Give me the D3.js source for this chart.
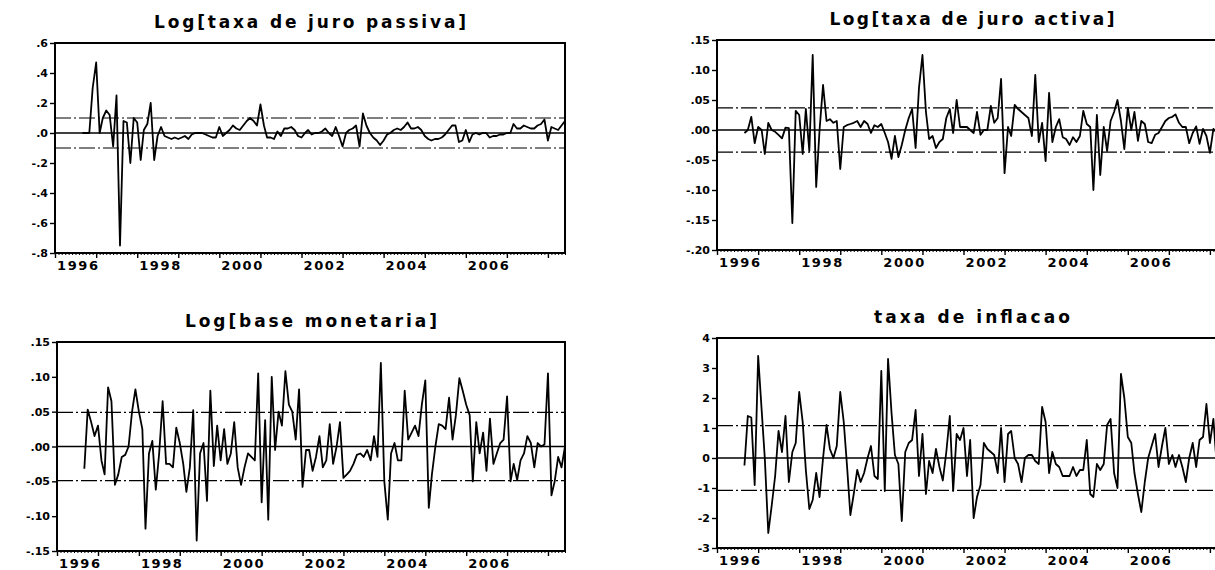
<!DOCTYPE html>
<html>
<head>
<meta charset="utf-8">
<script src="https://cdn.jsdelivr.net/npm/d3@7"></script>
<style>
  body { margin: 0; background: #fff; }
  svg { display: block; }
  text { font-family: "DejaVu Sans", "Liberation Sans", Arial, sans-serif; font-weight: bold; fill: #000; }
</style>
</head>
<body>
<svg id="chart" width="1215" height="570"></svg>
<script>
// monthly observations, first value = 1996M9 (month index 8 from 1996M1)
const firstMonth = 8;
const sampleStart = [1996, 0];
const sampleEnd = [2008, 5];

const juroPassiva = [
  0.00, 0.00, 0.00, 0.30,                                               // 1996
  0.47, 0.00, 0.10, 0.15, 0.12, -0.09, 0.25, -0.75, 0.08, 0.07, -0.20, 0.10, // 1997
  0.07, -0.18, 0.02, 0.06, 0.20, -0.18, -0.02, 0.04, -0.02, -0.03, -0.04, -0.03, // 1998
  -0.04, -0.03, -0.02, -0.04, -0.01, 0.00, 0.00, 0.00, -0.01, -0.02, -0.03, -0.03, // 1999
  0.04, -0.02, 0.00, 0.02, 0.05, 0.03, 0.02, 0.05, 0.08, 0.10, 0.08, 0.05,     // 2000
  0.19, 0.05, -0.03, -0.03, -0.04, 0.01, -0.02, 0.03, 0.03, 0.04, 0.02, -0.02, // 2001
  -0.03, 0.00, 0.02, -0.01, 0.00, 0.00, 0.01, 0.03, 0.00, -0.02, 0.04, -0.02,  // 2002
  -0.09, 0.00, 0.02, 0.03, 0.05, -0.09, 0.13, 0.05, 0.00, -0.03, -0.05, -0.08, // 2003
  -0.05, -0.01, 0.00, 0.02, 0.03, 0.02, 0.04, 0.07, 0.03, 0.03, 0.04, 0.02,    // 2004
  -0.02, -0.04, -0.05, -0.04, -0.04, -0.03, -0.01, 0.02, 0.05, 0.05, -0.06, -0.05, // 2005
  0.02, -0.06, -0.01, 0.00, -0.01, 0.00, 0.00, -0.03, -0.02, -0.02, -0.01, -0.01, // 2006
  0.00, 0.00, 0.06, 0.03, 0.03, 0.05, 0.04, 0.03, 0.03, 0.05, 0.06, 0.09,      // 2007
  -0.05, 0.04, 0.03, 0.02, 0.05, 0.08                                     // 2008
];

const juroActiva = [
  -0.005, 0.000, 0.022, -0.022,
  0.005, 0.000, -0.040, 0.012, 0.000, -0.003, -0.008, -0.014, 0.004, 0.003, -0.155, 0.032,
  0.025, -0.040, 0.035, -0.035, 0.125, -0.095, 0.000, 0.075, 0.015, 0.018, 0.012, 0.015,
  -0.065, 0.005, 0.008, 0.010, 0.012, 0.015, 0.005, 0.015, 0.010, -0.005, 0.008, 0.005,
  0.010, -0.005, -0.020, -0.048, -0.010, -0.045, -0.025, 0.000, 0.020, 0.035, -0.030, 0.070,
  0.125, 0.030, -0.015, -0.010, -0.030, -0.020, -0.015, 0.020, 0.035, -0.005, 0.050, 0.005,
  0.005, 0.005, 0.000, -0.005, 0.030, -0.008, 0.000, 0.000, 0.040, 0.012, 0.020, 0.085,
  -0.072, 0.005, -0.010, 0.042, 0.035, 0.030, 0.025, 0.020, -0.010, 0.092, -0.020, 0.012,
  -0.052, 0.062, -0.020, 0.005, 0.018, -0.012, -0.015, -0.025, -0.012, -0.020, -0.010, 0.032,
  0.010, 0.005, -0.100, 0.025, -0.075, 0.005, -0.035, 0.015, 0.030, 0.050, 0.015, -0.032,
  0.037, 0.000, 0.030, -0.018, 0.015, 0.010, -0.020, -0.022, -0.008, -0.005, 0.005, 0.015,
  0.020, 0.022, 0.026, 0.012, 0.005, 0.005, -0.022, -0.005, 0.006, -0.023, 0.002, -0.010,
  -0.038, 0.002, -0.005, 0.010, -0.010, 0.005
];

const baseMonetaria = [
  -0.032, 0.053, 0.035, 0.015,
  0.030, -0.020, -0.040, 0.085, 0.065, -0.055, -0.040, -0.015, -0.012, 0.000, 0.050, 0.082,
  0.050, 0.025, -0.118, -0.010, 0.008, -0.062, -0.010, 0.065, -0.025, -0.025, -0.030, 0.027,
  0.005, -0.025, -0.065, -0.030, 0.052, -0.135, -0.010, 0.005, -0.078, 0.080, -0.028, 0.030,
  -0.020, 0.025, -0.025, -0.010, 0.035, -0.030, -0.055, -0.030, -0.010, -0.015, -0.020, 0.105,
  -0.080, 0.038, -0.105, 0.100, -0.005, 0.050, 0.030, 0.108, 0.060, 0.050, 0.010, 0.082,
  -0.058, -0.005, -0.005, -0.035, -0.015, 0.015, -0.030, -0.020, 0.032, -0.025, 0.000, 0.035,
  -0.045, -0.040, -0.035, -0.025, -0.012, -0.010, -0.015, -0.005, -0.020, 0.015, -0.015, 0.120,
  -0.050, -0.105, -0.010, 0.005, -0.020, -0.020, 0.080, 0.010, 0.020, 0.030, 0.015, 0.060,
  0.095, -0.088, -0.040, 0.000, 0.032, 0.030, 0.025, 0.070, 0.010, 0.045, 0.098, 0.080,
  0.060, 0.045, -0.050, 0.035, -0.010, 0.020, -0.035, 0.040, -0.025, -0.010, 0.005, 0.010,
  0.072, -0.050, -0.025, -0.048, -0.020, -0.010, 0.015, 0.005, -0.030, 0.005, 0.000, 0.003,
  0.105, -0.070, -0.050, -0.015, -0.030, 0.000
];

const inflacao = [
  -0.25, 1.40, 1.35, -0.90,
  3.40, 1.60, 0.00, -2.50, -1.60, -0.60, 0.90, 0.20, 1.40, -0.80, 0.20, 0.50,
  2.20, 1.20, -0.40, -1.70, -1.40, -0.50, -1.30, 0.00, 1.10, 0.30, 0.00, 0.40,
  2.20, 1.20, -0.20, -1.90, -1.20, -0.40, -0.80, -0.50, 0.00, 0.40, -0.60, -0.70,
  2.90, -1.10, 3.30, 1.50, 0.10, -0.20, -2.10, 0.20, 0.50, 0.60, 1.60, -0.60,
  0.80, -1.20, -0.10, -0.50, 0.30, -0.30, -0.75, 0.20, 1.40, -1.10, 0.80, 0.60,
  1.00, -0.60, 0.60, -2.00, -1.30, -0.90, 0.50, 0.30, 0.20, 0.10, -0.50, 1.00,
  -0.80, 0.80, 0.90, 0.00, -0.20, -0.80, 0.00, 0.10, 0.10, -0.10, -0.20, 1.70,
  1.20, -0.50, 0.20, -0.20, -0.30, -0.60, -0.60, -0.60, -0.30, -0.60, -0.40, -0.40,
  0.60, -1.20, -1.30, -0.20, -0.40, -0.20, 1.10, 1.30, -0.50, -1.00, 2.80, 2.00,
  0.70, 0.50, -0.50, -1.20, -1.80, -0.80, 0.00, 0.40, 0.80, -0.30, 0.40, 1.00,
  -0.20, 0.10, -0.30, 0.10, -0.30, -0.80, 0.00, 0.50, -0.30, 0.60, 0.70, 1.80,
  0.50, 1.30, -0.20, 0.30, 0.50, 0.20
];

// dash-dot bands (+/- two standard errors)
const bandPassiva = 0.10;
const bandActiva = 0.037;
const bandBase = 0.049;
const bandInflacao = 1.08;

// axis ticks and labels
const passivaTicks = [0.6, 0.4, 0.2, 0.0, -0.2, -0.4, -0.6, -0.8];
const passivaLabels = [".6", ".4", ".2", ".0", "-.2", "-.4", "-.6", "-.8"];
const activaTicks = [0.15, 0.10, 0.05, 0.00, -0.05, -0.10, -0.15, -0.20];
const activaLabels = [".15", ".10", ".05", ".00", "-.05", "-.10", "-.15", "-.20"];
const baseTicks = [0.15, 0.10, 0.05, 0.00, -0.05, -0.10, -0.15];
const baseLabels = [".15", ".10", ".05", ".00", "-.05", "-.10", "-.15"];
const inflacaoTicks = [4, 3, 2, 1, 0, -1, -2, -3];
const inflacaoLabels = ["4", "3", "2", "1", "0", "-1", "-2", "-3"];
const yearLabels = ["1996", "1998", "2000", "2002", "2004", "2006"];

const titles = ["Log[taxa de juro passiva]", "Log[taxa de juro activa]",
                "Log[base monetaria]", "taxa de inflacao"];

// panel layout
const panels = [
  { title: titles[0], values: juroPassiva, band: bandPassiva, ticks: passivaTicks, labels: passivaLabels,
    left: 55, top: 43, width: 510, height: 210, titleWidth: 312 },
  { title: titles[1], values: juroActiva, band: bandActiva, ticks: activaTicks, labels: activaLabels,
    left: 717, top: 40, width: 510, height: 210, titleWidth: 285 },
  { title: titles[2], values: baseMonetaria, band: bandBase, ticks: baseTicks, labels: baseLabels,
    left: 57, top: 342, width: 508, height: 209, titleWidth: 252 },
  { title: titles[3], values: inflacao, band: bandInflacao, ticks: inflacaoTicks, labels: inflacaoLabels,
    left: 717, top: 338, width: 510, height: 210, titleWidth: 196 }
];

const svg = d3.select("#chart");

function drawPanel(p) {
  const g = svg.append("g").attr("transform", `translate(${p.left},${p.top})`);

  const x = d3.scaleTime()
    .domain([new Date(sampleStart[0], sampleStart[1], 1), new Date(sampleEnd[0], sampleEnd[1], 1)])
    .range([0, p.width]);

  const y = d3.scaleLinear()
    .domain([d3.min(p.ticks), d3.max(p.ticks)])
    .range([p.height, 0]);

  const data = p.values.map((v, i) => ({ date: new Date(1996, firstMonth + i, 1), v: v }));

  // title
  g.append("text")
    .attr("x", p.width / 2)
    .attr("y", -15)
    .attr("text-anchor", "middle")
    .attr("textLength", p.titleWidth)
    .attr("lengthAdjust", "spacing")
    .style("font-size", "17px")
    .text(p.title);

  // zero line and bands
  g.append("line")
    .attr("x1", 0).attr("x2", p.width)
    .attr("y1", y(0)).attr("y2", y(0))
    .attr("stroke", "#000").attr("stroke-width", 1.4);

  [p.band, -p.band].forEach(b => {
    g.append("line")
      .attr("x1", 0).attr("x2", p.width)
      .attr("y1", y(b)).attr("y2", y(b))
      .attr("stroke", "#000").attr("stroke-width", 1.2)
      .attr("stroke-dasharray", "16,3,2,3");
  });

  // series
  g.append("path")
    .datum(data)
    .attr("fill", "none")
    .attr("stroke", "#000")
    .attr("stroke-width", 1.8)
    .attr("stroke-linejoin", "round")
    .attr("d", d3.line().x(d => x(d.date)).y(d => y(d.v)));

  // frame
  g.append("rect")
    .attr("width", p.width).attr("height", p.height)
    .attr("fill", "none").attr("stroke", "#000").attr("stroke-width", 2);

  // left axis
  const yAxis = g.append("g")
    .call(d3.axisLeft(y).tickValues(p.ticks).tickFormat((d, i) => p.labels[i]).tickSize(5).tickPadding(2));
  yAxis.select(".domain").remove();
  yAxis.selectAll("line").attr("stroke-width", 1.4);
  yAxis.selectAll("text").style("font-size", "11px").attr("font-family", null);

  // bottom axis: yearly and monthly ticks
  const xMinor = g.append("g").attr("transform", `translate(0,${p.height})`)
    .call(d3.axisBottom(x).ticks(d3.timeMonth.every(1)).tickSize(2).tickFormat(""));
  xMinor.select(".domain").remove();
  const xMajor = g.append("g").attr("transform", `translate(0,${p.height})`)
    .call(d3.axisBottom(x).ticks(d3.timeYear.every(1)).tickSize(5).tickFormat(""));
  xMajor.select(".domain").remove();
  xMajor.selectAll("line").attr("stroke-width", 1.4);

  g.selectAll(".year-label")
    .data(yearLabels)
    .enter().append("text")
    .attr("class", "year-label")
    .attr("x", d => x(new Date(+d, 0, 1)) + 2)
    .attr("y", p.height + 17)
    .attr("textLength", 41)
    .attr("lengthAdjust", "spacing")
    .style("font-size", "13px")
    .text(d => d);
}

panels.forEach(drawPanel);
</script>
</body>
</html>
